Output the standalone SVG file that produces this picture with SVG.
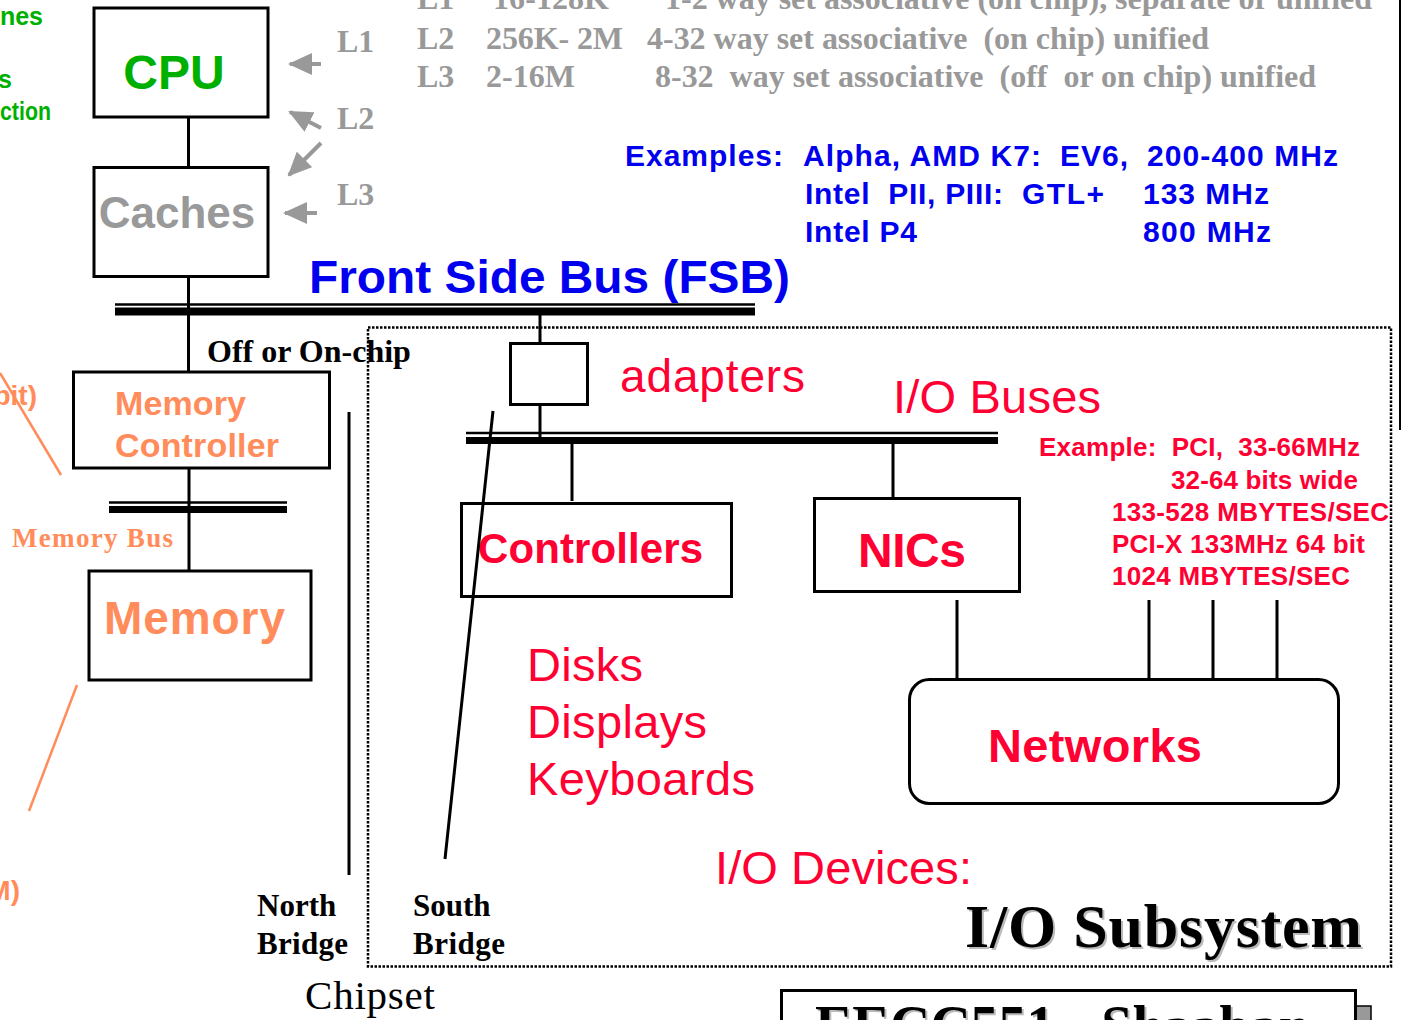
<svg xmlns="http://www.w3.org/2000/svg" width="1402" height="1020" viewBox="0 0 1402 1020">
<style>
.box{fill:#fff;stroke:#000;stroke-width:3}
.ln{stroke:#000;stroke-width:3;fill:none}
.sans{font-family:"Liberation Sans",Arial,sans-serif;font-weight:bold}
.sansr{font-family:"Liberation Sans",Arial,sans-serif}
.serif{font-family:"Liberation Serif","Times New Roman",serif;font-weight:bold}
.gray{fill:#999}
.green{fill:#00b000}
.blue{fill:#0000ee}
.red{fill:#ff0033}
.salmon{fill:#ff8c5a}
.arr{stroke:#999;stroke-width:4;marker-end:url(#ga)}
</style>
<defs>
<marker id="ga" markerUnits="userSpaceOnUse" markerWidth="24" markerHeight="22" refX="22" refY="11" orient="auto">
<path d="M0,0 L24,11 L0,22 Z" fill="#999"/>
</marker>
</defs>
<rect width="1402" height="1020" fill="#fff"/>

<g id="left-green">
<text class="sans green" x="43" y="25" font-size="25" text-anchor="end">nes</text>
<text class="sans green" x="12" y="88" font-size="25" text-anchor="end">s</text>
<text class="sans green" x="0" y="120" font-size="25" textLength="51" lengthAdjust="spacingAndGlyphs">ction</text>
</g>

<g id="cache-table" class="serif gray" font-size="32">
<text x="417" y="9">L1</text>
<text x="493" y="9" textLength="116">16-128K</text>
<text x="665" y="9" textLength="707">1-2 way set associative (on chip), separate or unified</text>
<text x="417" y="49">L2</text>
<text x="486" y="49" textLength="137">256K- 2M</text>
<text x="647" y="49" textLength="562" xml:space="preserve">4-32 way set associative  (on chip) unified</text>
<text x="417" y="87">L3</text>
<text x="486" y="87" textLength="89">2-16M</text>
<text x="655" y="87" textLength="661" xml:space="preserve">8-32  way set associative  (off  or on chip) unified</text>
</g>

<g id="cache-labels" class="serif gray" font-size="32">
<text x="337" y="52">L1</text>
<text x="337" y="129">L2</text>
<text x="337" y="205">L3</text>
</g>

<g id="examples" class="sans blue" font-size="30">
<text x="625" y="166" textLength="158">Examples:</text>
<text x="803" y="166" textLength="238">Alpha, AMD K7:</text>
<text x="1060" y="166" textLength="68">EV6,</text>
<text x="1147" y="166" textLength="191">200-400 MHz</text>
<text x="805" y="204" textLength="198" xml:space="preserve">Intel  PII, PIII:</text>
<text x="1022" y="204" textLength="82">GTL+</text>
<text x="1143" y="204" textLength="126">133 MHz</text>
<text x="805" y="242" textLength="112">Intel P4</text>
<text x="1143" y="242" textLength="128">800 MHz</text>
</g>

<text id="fsb-label" class="sans blue" x="309" y="293" font-size="46" textLength="481" lengthAdjust="spacingAndGlyphs">Front Side Bus (FSB)</text>

<g id="fsb-bus">
<line x1="115" y1="304.5" x2="755" y2="304.5" stroke="#000" stroke-width="2.5"/>
<rect x="115" y="307.5" width="640" height="8" fill="#000"/>
</g>
<g id="memory-bus">
<line x1="109" y1="502.5" x2="287" y2="502.5" stroke="#000" stroke-width="2.5"/>
<rect x="109" y="506" width="178" height="7" fill="#000"/>
</g>
<g id="io-bus">
<line x1="466" y1="433" x2="998" y2="433" stroke="#000" stroke-width="2.5"/>
<rect x="466" y="437" width="532" height="7" fill="#000"/>
</g>

<rect id="io-frame" x="368" y="327.5" width="1023" height="639" fill="none" stroke="#000" stroke-width="2.5" stroke-dasharray="2.5 1.5"/>

<g id="cpu">
<rect class="box" x="94" y="8" width="174" height="109"/>
<text class="sans green" x="174" y="89" font-size="48" text-anchor="middle">CPU</text>
</g>
<g id="caches">
<rect class="box" x="94" y="167.5" width="174" height="109"/>
<text class="sans gray" x="177" y="228" font-size="44" text-anchor="middle">Caches</text>
</g>
<text id="offchip" class="serif" x="207" y="362" font-size="32" fill="#000">Off or On-chip</text>
<g id="memory-controller">
<rect class="box" x="73.5" y="372" width="256" height="96"/>
<text class="sans salmon" x="115" y="415" font-size="34" textLength="131">Memory</text>
<text class="sans salmon" x="115" y="457" font-size="34" textLength="164">Controller</text>
</g>
<text class="sans salmon" x="37" y="405" font-size="28" text-anchor="end">bit)</text>
<text class="serif salmon" x="12" y="547" font-size="27" textLength="161">Memory Bus</text>
<g id="memory">
<rect class="box" x="89" y="571" width="222" height="109"/>
<text class="sans salmon" x="104" y="634" font-size="46" textLength="181">Memory</text>
</g>
<text class="sans salmon" x="20" y="900" font-size="28" text-anchor="end">M)</text>

<g id="adapter">
<rect class="box" x="510.5" y="343.5" width="77" height="61"/>
</g>
<text class="sansr red" x="620" y="392" font-size="46" textLength="185">adapters</text>
<text class="sansr red" x="893" y="413" font-size="47" textLength="208">I/O Buses</text>

<g id="pci-text" class="sans red" font-size="26">
<text x="1039" y="456" textLength="321" xml:space="preserve">Example:  PCI,  33-66MHz</text>
<text x="1171" y="489" textLength="187">32-64 bits wide</text>
<text x="1112" y="521" textLength="277">133-528 MBYTES/SEC</text>
<text x="1112" y="553" textLength="253">PCI-X 133MHz 64 bit</text>
<text x="1112" y="585" textLength="238">1024 MBYTES/SEC</text>
</g>

<g id="controllers">
<rect class="box" x="461.5" y="503.5" width="270" height="93"/>
<text class="sans red" x="478" y="563" font-size="42" textLength="225">Controllers</text>
</g>
<g id="nics">
<rect class="box" x="814.5" y="498.5" width="205" height="93"/>
<text class="sans red" x="858" y="567" font-size="48" textLength="108">NICs</text>
</g>
<g id="networks">
<rect class="box" x="909.5" y="679.5" width="429" height="124" rx="20"/>
<text class="sans red" x="988" y="762" font-size="47" textLength="214">Networks</text>
</g>

<g id="devices" class="sansr red" font-size="47">
<text x="527" y="681" textLength="116">Disks</text>
<text x="527" y="738" textLength="180">Displays</text>
<text x="527" y="795" textLength="228">Keyboards</text>
<text x="715" y="884" textLength="257">I/O Devices:</text>
</g>

<g id="io-subsystem-label" class="serif" font-size="62">
<text x="967" y="949" fill="#bbb" textLength="397">I/O Subsystem</text>
<text x="965" y="947" fill="#000" textLength="397">I/O Subsystem</text>
</g>

<g id="bridges" class="serif" font-size="31" fill="#000">
<text x="257" y="916">North</text>
<text x="257" y="954" textLength="91">Bridge</text>
<text x="413" y="916">South</text>
<text x="413" y="954" textLength="92">Bridge</text>
</g>
<text id="chipset" x="305" y="1009" font-family="'Liberation Serif','Times New Roman',serif" font-size="41" fill="#000" textLength="130">Chipset</text>

<g id="footer">
<rect x="1356" y="1006" width="15" height="30" fill="#999" stroke="#000" stroke-width="1.5"/>
<rect class="box" x="781.5" y="990.5" width="574" height="60"/>
<text class="serif" x="817" y="1047" font-size="56" fill="#bbb">EECC551 - Shaaban</text>
<text class="serif" x="815" y="1045" font-size="56" fill="#000">EECC551 - Shaaban</text>
</g>

<g id="connectors">
<line class="arr" x1="321" y1="64" x2="290" y2="64"/>
<line class="arr" x1="321" y1="128" x2="290" y2="112"/>
<line class="arr" x1="321" y1="143" x2="289" y2="175"/>
<line class="arr" x1="317" y1="213" x2="285" y2="213"/>
<line class="ln" x1="188.5" y1="118" x2="188.5" y2="166"/>
<line class="ln" x1="188.5" y1="278" x2="188.5" y2="372"/>
<line class="ln" x1="189" y1="468" x2="189" y2="571"/>
<line class="ln" x1="540" y1="315" x2="540" y2="343"/>
<line class="ln" x1="540" y1="406" x2="540" y2="437"/>
<line class="ln" x1="572" y1="444" x2="572" y2="501"/>
<line class="ln" x1="893" y1="444" x2="893" y2="497"/>
<line class="ln" x1="957" y1="600" x2="957" y2="678"/>
<line class="ln" x1="1149" y1="600" x2="1149" y2="678"/>
<line class="ln" x1="1213" y1="600" x2="1213" y2="678"/>
<line class="ln" x1="1277" y1="600" x2="1277" y2="678"/>
<line class="ln" x1="349" y1="412" x2="349" y2="875"/>
<line class="ln" x1="493" y1="411" x2="445" y2="859"/>
<line x1="0" y1="373" x2="61" y2="475" stroke="#ff8c5a" stroke-width="2.5"/>
<line x1="77" y1="685" x2="29" y2="811" stroke="#ff8c5a" stroke-width="2.5"/>
<line x1="1400" y1="0" x2="1400" y2="430" stroke="#000" stroke-width="2"/>
</g>
</svg>
